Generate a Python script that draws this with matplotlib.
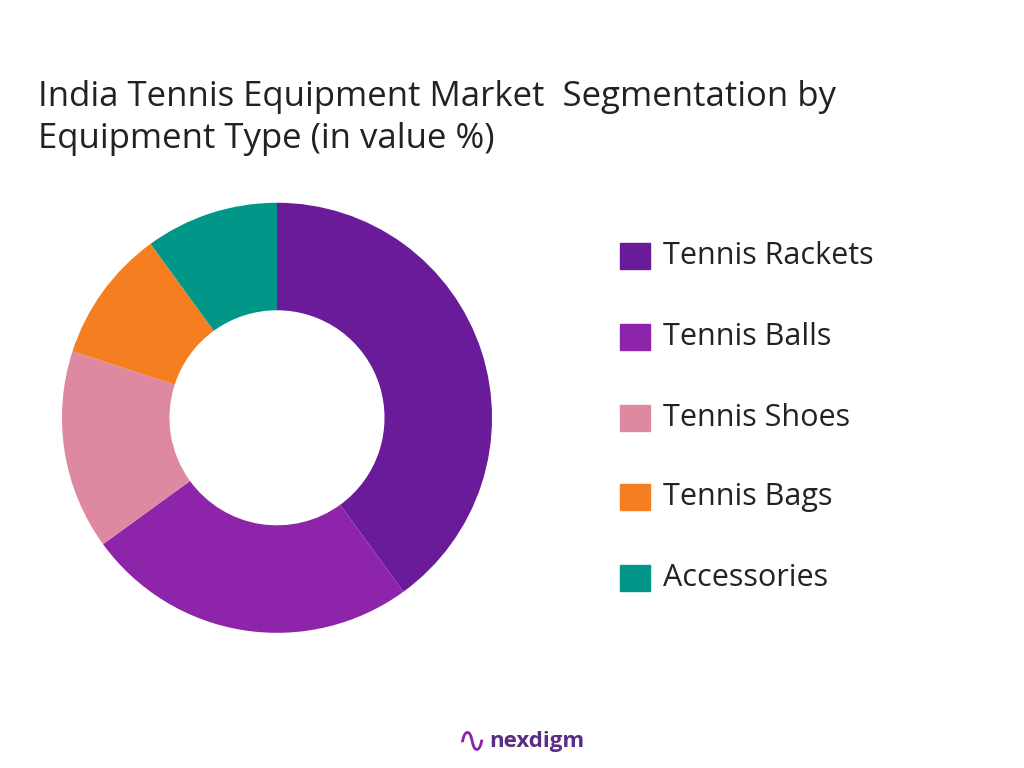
import matplotlib.pyplot as plt
from matplotlib.patches import Rectangle

labels = ["Tennis Rackets", "Tennis Balls", "Tennis Shoes", "Tennis Bags", "Accessories"]
values = [40, 25, 15, 10, 10]
colors = ["#6A1B9A", "#8E24AA", "#DE89A0", "#F47E20", "#009688"]

plt.rcParams['font.family'] = ['Open Sans', 'DejaVu Sans']

fig = plt.figure(figsize=(10.24, 7.68), dpi=100)
ax = fig.add_axes([0.0605, 0.176, 0.42, 0.56])
ax.pie(values, colors=colors, startangle=90, counterclock=False,
       radius=1, wedgeprops=dict(width=0.5, linewidth=0))
ax.set_xlim(-1, 1)
ax.set_ylim(-1, 1)
ax.set_aspect('equal')

fig.text(0.037, 1 - 118 / 768, "India Tennis Equipment Market  Segmentation by\nEquipment Type (in value %)",
         fontsize=25, color="#222222", va="center", linespacing=1.3)

# legend
ys = [256, 337, 418, 497, 578]
for lab, col, y in zip(labels, colors, ys):
    fig.patches.append(Rectangle((620 / 1024, 1 - (y + 13) / 768), 30 / 1024, 26 / 768,
                                 transform=fig.transFigure, color=col))
    fig.text(663 / 1024, 1 - y / 768, lab, fontsize=22, color="#222222", va="center")

# logo
fig.text(0.475, 1 - 742 / 768, "∿", fontsize=26, color="#8E24AA", ha="right", va="center")
fig.text(0.478, 1 - 742 / 768, "nexdigm", fontsize=16, color="#5B2C83", fontweight="bold",
         ha="left", va="center")

fig.savefig("out.png", dpi=100)
